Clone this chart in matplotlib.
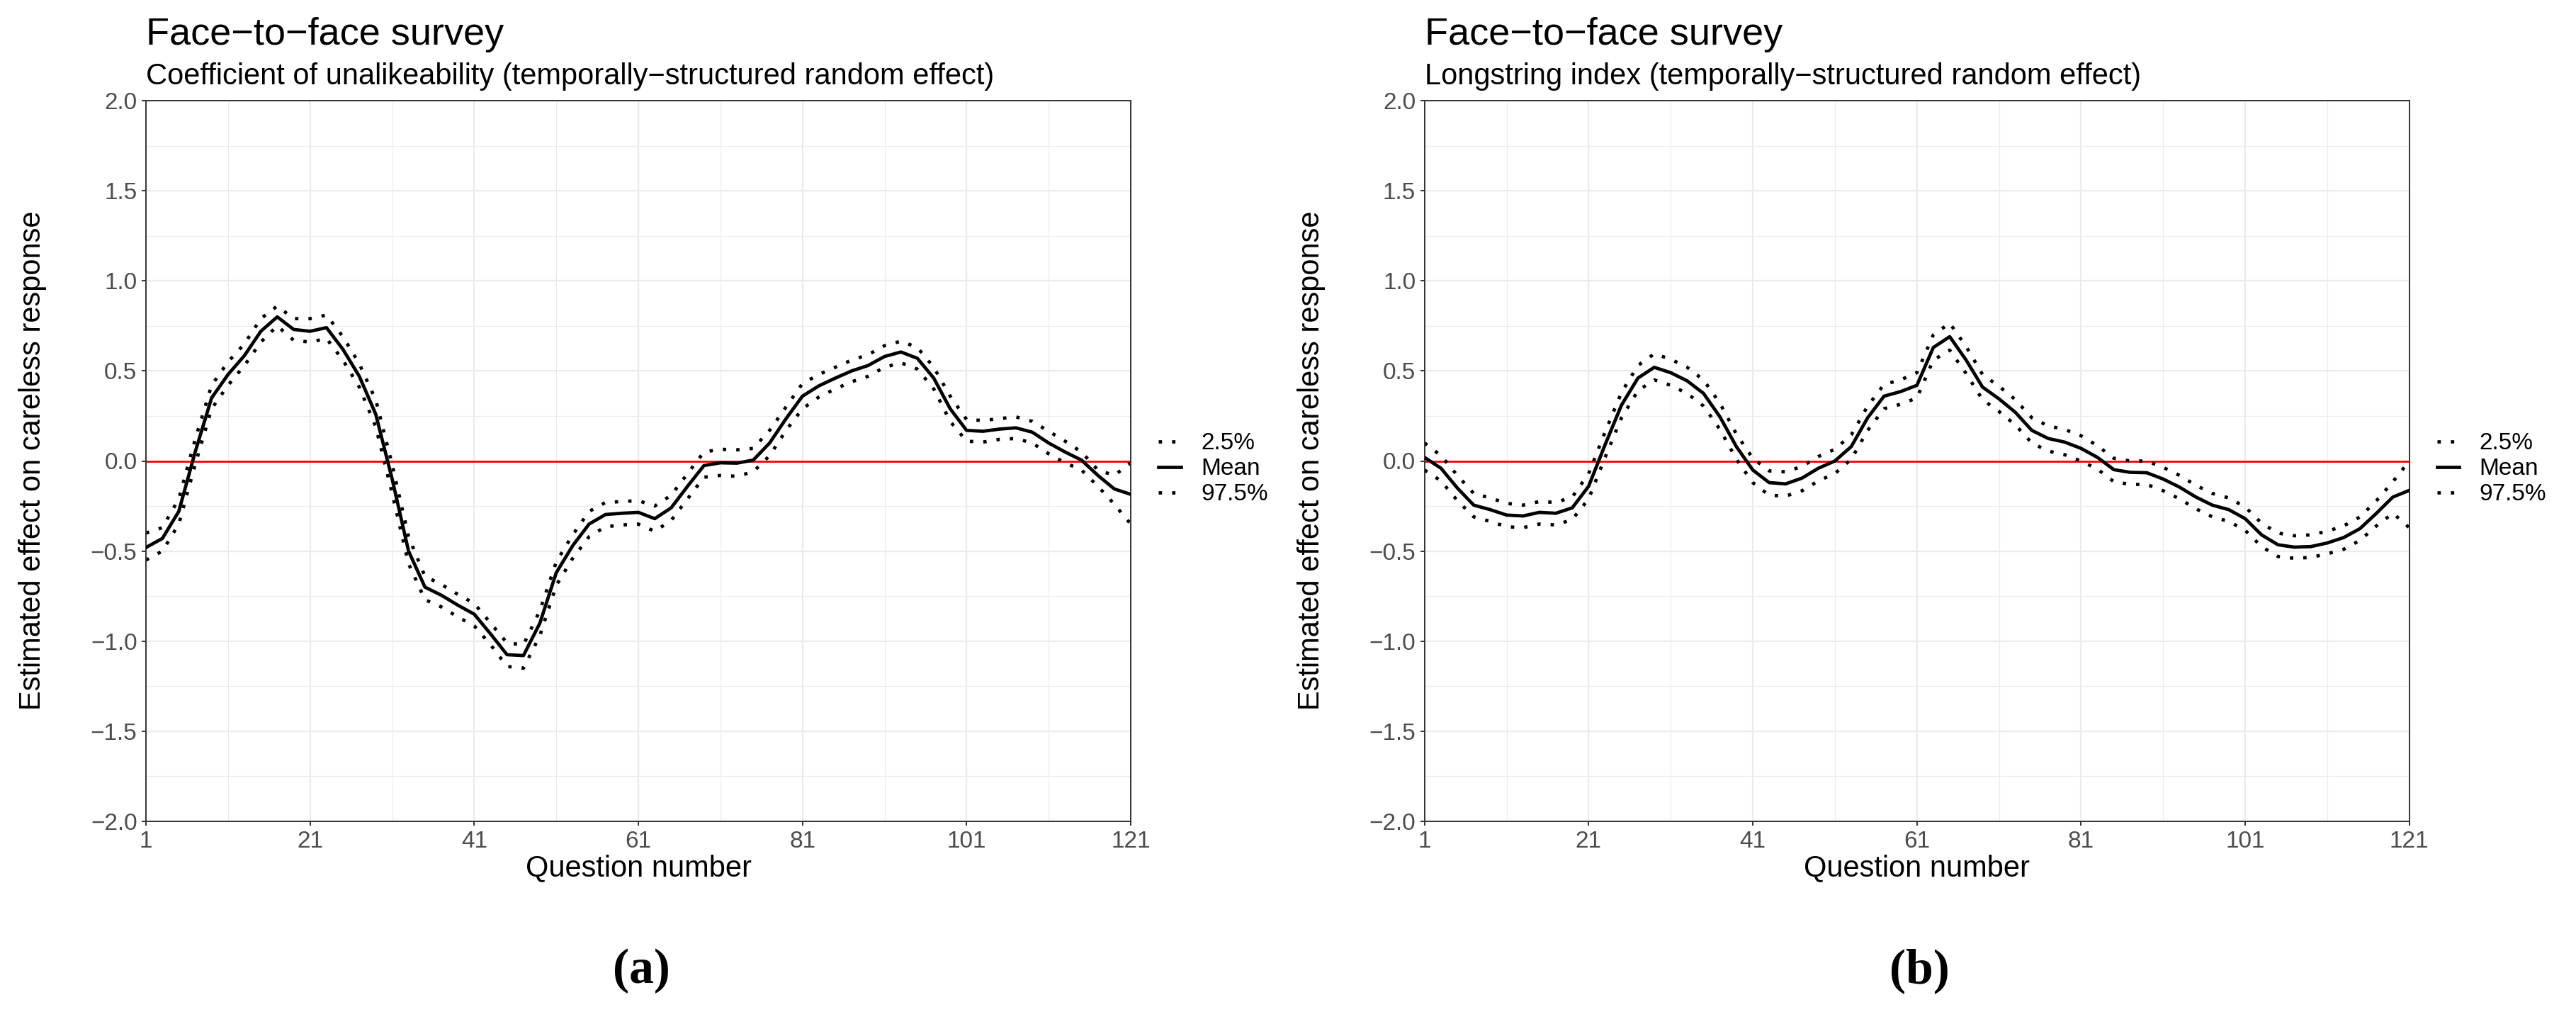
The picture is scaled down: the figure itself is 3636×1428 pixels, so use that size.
import numpy as np
import matplotlib
matplotlib.use("Agg")
import matplotlib.pyplot as plt

plt.rcParams['font.family'] = ['Liberation Sans', 'DejaVu Sans']

# question numbers (every second question)
questions = np.arange(1, 122, 2)

# (a) coefficient of unalikeability
cu_mean = [-0.48, -0.43, -0.28, 0.05, 0.35, 0.48, 0.585, 0.72, 0.80, 0.73,
           0.72, 0.74, 0.62, 0.47, 0.26, -0.10, -0.50, -0.70, -0.745, -0.80,
           -0.85, -0.96, -1.075, -1.08, -0.90, -0.62, -0.47, -0.35, -0.297, -0.29,
           -0.285, -0.32, -0.26, -0.14, -0.025, -0.01, -0.012, 0.005, 0.10, 0.235,
           0.36, 0.417, 0.46, 0.50, 0.53, 0.58, 0.605, 0.57, 0.46, 0.29,
           0.17, 0.165, 0.177, 0.184, 0.16, 0.10, 0.05, 0.005, -0.08, -0.155,
           -0.185]
cu_upper = [-0.40, -0.37, -0.21, 0.12, 0.42, 0.55, 0.65, 0.79, 0.86, 0.79,
            0.79, 0.81, 0.69, 0.54, 0.34, -0.02, -0.42, -0.64, -0.685, -0.74,
            -0.79, -0.90, -1.01, -1.02, -0.83, -0.56, -0.41, -0.28, -0.23, -0.225,
            -0.22, -0.25, -0.19, -0.07, 0.05, 0.065, 0.062, 0.07, 0.17, 0.30,
            0.43, 0.48, 0.52, 0.56, 0.59, 0.64, 0.665, 0.63, 0.52, 0.36,
            0.23, 0.225, 0.235, 0.245, 0.22, 0.165, 0.11, 0.05, -0.05, -0.08,
            -0.01]
cu_lower = [-0.55, -0.50, -0.35, -0.02, 0.29, 0.42, 0.53, 0.66, 0.75, 0.67,
            0.66, 0.68, 0.56, 0.41, 0.19, -0.18, -0.57, -0.77, -0.81, -0.865,
            -0.915, -1.02, -1.14, -1.15, -0.97, -0.69, -0.54, -0.42, -0.365, -0.355,
            -0.35, -0.39, -0.33, -0.21, -0.09, -0.08, -0.085, -0.06, 0.03, 0.17,
            0.29, 0.355, 0.40, 0.44, 0.47, 0.52, 0.545, 0.51, 0.40, 0.22,
            0.11, 0.105, 0.12, 0.125, 0.10, 0.04, -0.01, -0.05, -0.14, -0.24,
            -0.35]

# (b) longstring index
ls_mean = [0.02, -0.04, -0.15, -0.245, -0.27, -0.30, -0.305, -0.285, -0.29, -0.26,
           -0.14, 0.09, 0.31, 0.46, 0.52, 0.49, 0.445, 0.375, 0.245, 0.08,
           -0.05, -0.12, -0.127, -0.095, -0.04, 0.0, 0.08, 0.24, 0.36, 0.385,
           0.42, 0.63, 0.69, 0.56, 0.41, 0.345, 0.27, 0.17, 0.125, 0.105,
           0.07, 0.02, -0.048, -0.063, -0.065, -0.10, -0.145, -0.20, -0.245, -0.27,
           -0.32, -0.41, -0.465, -0.478, -0.475, -0.455, -0.425, -0.375, -0.29, -0.20,
           -0.163]
ls_upper = [0.10, 0.03, -0.08, -0.18, -0.205, -0.235, -0.245, -0.225, -0.23, -0.20,
            -0.07, 0.16, 0.38, 0.53, 0.595, 0.565, 0.52, 0.45, 0.32, 0.15,
            0.015, -0.055, -0.06, -0.03, 0.025, 0.065, 0.145, 0.305, 0.425, 0.45,
            0.49, 0.70, 0.765, 0.635, 0.48, 0.415, 0.34, 0.24, 0.195, 0.175,
            0.14, 0.085, 0.015, 0.0, 0.0, -0.035, -0.08, -0.135, -0.18, -0.205,
            -0.255, -0.345, -0.40, -0.415, -0.41, -0.39, -0.36, -0.31, -0.22, -0.115,
            0.0]
ls_lower = [-0.05, -0.11, -0.22, -0.31, -0.335, -0.365, -0.37, -0.35, -0.355, -0.325,
            -0.21, 0.02, 0.24, 0.39, 0.45, 0.42, 0.375, 0.305, 0.175, 0.01,
            -0.12, -0.19, -0.195, -0.165, -0.11, -0.07, 0.01, 0.17, 0.29, 0.315,
            0.35, 0.56, 0.615, 0.485, 0.34, 0.275, 0.20, 0.10, 0.055, 0.035,
            0.0, -0.045, -0.115, -0.13, -0.13, -0.165, -0.21, -0.265, -0.31, -0.335,
            -0.385, -0.475, -0.53, -0.54, -0.535, -0.515, -0.49, -0.44, -0.36, -0.29,
            -0.37]

xticks = [1, 21, 41, 61, 81, 101, 121]
xminor = [11, 31, 51, 71, 91, 111]
yticks = [-2.0, -1.5, -1.0, -0.5, 0.0, 0.5, 1.0, 1.5, 2.0]
yminor = [-1.75, -1.25, -0.75, -0.25, 0.25, 0.75, 1.25, 1.75]
ytick_labels = ["\u22122.0", "\u22121.5", "\u22121.0", "\u22120.5", "0.0",
                "0.5", "1.0", "1.5", "2.0"]

W, H = 3636, 1428
fig = plt.figure(figsize=(W / 100, H / 100), dpi=100)


def painel(left, mean, lower, upper, subtitulo, letra):
    ax = fig.add_axes([left / W, (H - 1159) / H, 1390 / W, 1017 / H])
    ax.set_xlim(1, 121)
    ax.set_ylim(-2, 2)

    # grelha
    for v in xminor:
        ax.axvline(v, color='#EBEBEB', lw=0.8, zorder=0)
    for v in yminor:
        ax.axhline(v, color='#EBEBEB', lw=0.8, zorder=0)
    for v in xticks:
        ax.axvline(v, color='#EBEBEB', lw=1.6, zorder=0)
    for v in yticks:
        ax.axhline(v, color='#EBEBEB', lw=1.6, zorder=0)

    ax.axhline(0, color='red', lw=2.0, zorder=1)

    l1, = ax.plot(questions, lower, color='black', lw=3.4, ls=(0, (1, 3)),
                  dash_capstyle='butt', zorder=2, label='2.5%')
    l2, = ax.plot(questions, mean, color='black', lw=3.4, zorder=3, label='Mean',
                  solid_joinstyle='round')
    l3, = ax.plot(questions, upper, color='black', lw=3.4, ls=(0, (1, 3)),
                  dash_capstyle='butt', zorder=2, label='97.5%')

    ax.set_xticks(xticks)
    ax.set_xticklabels([str(v) for v in xticks])
    ax.set_yticks(yticks)
    ax.set_yticklabels(ytick_labels)
    ax.tick_params(length=4.5, width=1.4, color='#333333', labelsize=24,
                   labelcolor='#4D4D4D', pad=4.5)
    for s in ax.spines.values():
        s.set_color('#333333')
        s.set_linewidth(1.4)

    ax.set_xlabel('Question number', fontsize=30, labelpad=2)
    fig.text((left - 149) / W, (H - 650) / H, 'Estimated effect on careless response',
             fontsize=30, rotation=90, ha='center', va='baseline',
             rotation_mode='anchor')

    fig.text(left / W, 1 - 63 / H, 'Face\u2212to\u2212face survey', fontsize=39,
             ha='left', va='baseline')
    fig.text(left / W, 1 - 119 / H, subtitulo, fontsize=30, ha='left', va='baseline')

    ax.legend(handles=[l1, l2, l3], loc='center left',
              bbox_to_anchor=(1.028, 0.489), frameon=False, fontsize=24,
              handlelength=0.95, handletextpad=0.85, labelspacing=0.15,
              borderpad=0, borderaxespad=0)

    fig.text((left + 699) / W, (H - 1370) / H, letra, fontsize=50,
             family=['Liberation Serif', 'DejaVu Serif'], fontweight='bold',
             ha='center', va='center')
    return ax


painel(206, cu_mean, cu_lower, cu_upper,
       'Coefficient of unalikeability (temporally\u2212structured random effect)',
       '(a)')
painel(2010.7, ls_mean, ls_lower, ls_upper,
       'Longstring index (temporally\u2212structured random effect)',
       '(b)')

fig.savefig('out.png', dpi=100)
